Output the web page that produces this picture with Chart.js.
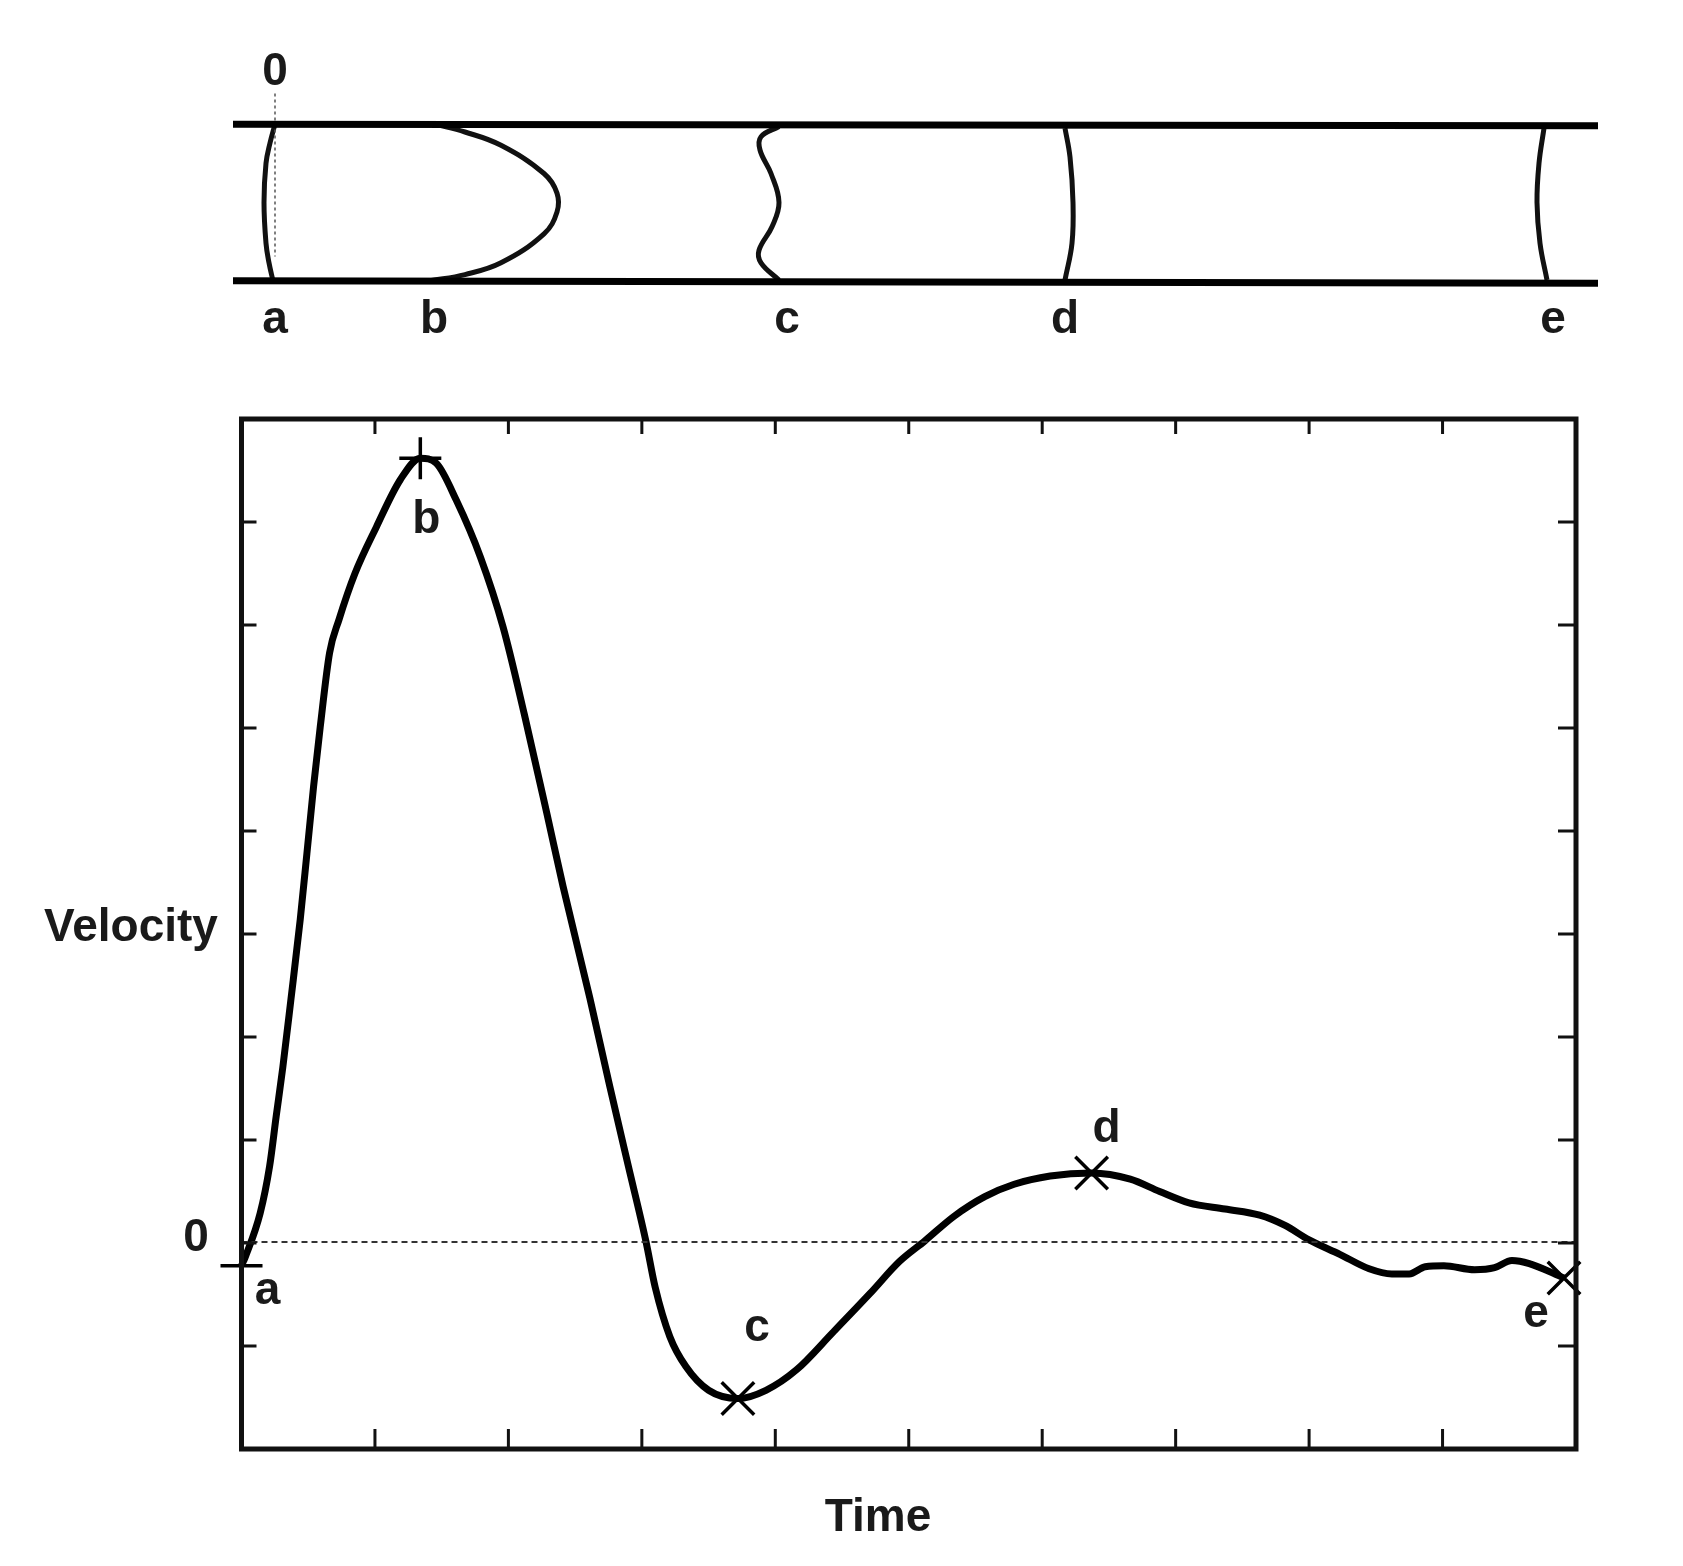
<!DOCTYPE html>
<html>
<head>
<meta charset="utf-8">
<title>Velocity over time</title>
<script src="https://cdn.jsdelivr.net/npm/chart.js@4"></script>
<style>
    html, body { margin: 0; padding: 0; background: #fff; }
    body { width: 1683px; height: 1566px; position: relative; overflow: hidden; }
    canvas { position: absolute; left: 0; }
    #tubeChart { top: 0; }
    #velocityChart { top: 400px; }
</style>
</head>
<body>
<canvas id="tubeChart" width="1683" height="400"></canvas>
<canvas id="velocityChart" width="1683" height="1166"></canvas>
<script>
// Velocity curve (time ticks, velocity ticks)
const timeValues = [0.00, 0.03, 0.14, 0.21, 0.26, 0.31, 0.37, 0.44, 0.49, 0.54, 0.59, 0.66, 0.73, 0.85, 1.01, 1.19, 1.34, 1.46, 1.61, 1.79, 1.96, 2.12, 2.29, 2.41, 2.61, 2.76, 2.90, 3.03, 3.10, 3.21, 3.33, 3.50, 3.72, 3.93, 4.16, 4.43, 4.71, 4.93, 5.12, 5.34, 5.57, 5.79, 6.06, 6.37, 6.66, 6.88, 7.10, 7.37, 7.63, 7.82, 8.00, 8.23, 8.45, 8.62, 8.75, 8.87, 9.01, 9.24, 9.39, 9.52, 9.65, 9.91];
const velocityValues = [-0.22, -0.13, 0.29, 0.74, 1.23, 1.71, 2.36, 3.14, 3.78, 4.43, 5.01, 5.73, 6.05, 6.50, 6.95, 7.41, 7.62, 7.57, 7.21, 6.66, 5.98, 5.13, 4.16, 3.46, 2.38, 1.52, 0.74, 0.02, -0.43, -0.91, -1.20, -1.43, -1.51, -1.43, -1.23, -0.87, -0.49, -0.18, 0.02, 0.26, 0.45, 0.57, 0.65, 0.68, 0.62, 0.50, 0.39, 0.33, 0.27, 0.17, 0.03, -0.11, -0.25, -0.30, -0.30, -0.23, -0.22, -0.26, -0.24, -0.17, -0.20, -0.34];

// Marked instants a to e
const markerNames = ['a', 'b', 'c', 'd', 'e'];
const markerTimes = [0.00, 1.34, 3.72, 6.37, 9.91];
const markerVelocities = [-0.22, 7.62, -1.51, 0.68, -0.34];

// Velocity profiles in the tube (distance along tube, radial position)
const radiiA = [1.0, 0.76, 0.50, 0.0, -0.52, -0.77, -1.0];
const profileA = [0.42, 0.37, 0.33, 0.31, 0.33, 0.36, 0.40];
const radiiB = [1.0, 0.90, 0.73, 0.37, 0.12, -0.12, -0.40, -0.77, -0.92, -1.0];
const profileB = [2.02, 2.32, 2.68, 3.11, 3.24, 3.24, 3.11, 2.68, 2.32, 1.97];
const radiiC = [0.97, 0.84, 0.67, 0.37, 0.0, -0.31, -0.61, -0.77, -0.99];
const profileC = [5.46, 5.28, 5.27, 5.38, 5.46, 5.39, 5.26, 5.28, 5.46];
const radiiD = [0.95, 0.58, 0.0, -0.52, -0.99];
const profileD = [8.32, 8.37, 8.40, 8.39, 8.32];
const radiiE = [0.95, 0.50, 0.0, -0.52, -0.99];
const profileE = [13.11, 13.06, 13.04, 13.07, 13.14];

// Tube walls and the dotted zero reference
const wallX = [0, 13.65];
const topWall = [1.0, 0.98];
const bottomWall = [-1.0, -1.03];
const zeroX = [0.42, 0.42];
const zeroR = [1.39, -0.69];
const tubeLabelX = [0.42, 2.01, 5.54, 8.32, 13.2];

const FONT = 'bold 46px "Liberation Sans", Arial, sans-serif';
const INK = '#111';

function toPoints(xs, ys) {
    return xs.map((x, i) => ({ x, y: ys[i] }));
}

function drawText(ctx, text, x, y) {
    ctx.save();
    ctx.font = FONT;
    ctx.fillStyle = '#1a1a1a';
    ctx.textAlign = 'center';
    ctx.textBaseline = 'middle';
    ctx.fillText(text, x, y);
    ctx.restore();
}

function profileLine(xs, ys) {
    return { data: toPoints(xs, ys), showLine: true, borderColor: INK, borderWidth: 5, pointRadius: 0, tension: 0.4, clip: false };
}

function wallLine(ys) {
    return { data: toPoints(wallX, ys), showLine: true, borderColor: '#000', borderWidth: 7, pointRadius: 0, tension: 0, clip: false };
}

// Text of the tube diagram
const tubeLabels = {
    id: 'tubeLabels',
    afterDatasetsDraw(chart) {
        const { ctx, scales } = chart;
        drawText(ctx, '0', scales.x.getPixelForValue(zeroX[0]), 72);
        markerNames.forEach((name, i) => {
            drawText(ctx, name, scales.x.getPixelForValue(tubeLabelX[i]), 320);
        });
    }
};

new Chart(document.getElementById('tubeChart'), {
    type: 'scatter',
    data: {
        datasets: [
            wallLine(topWall),
            wallLine(bottomWall),
            { data: toPoints(zeroX, zeroR), showLine: true, borderColor: '#555', borderWidth: 1.5, borderDash: [3, 3], pointRadius: 0, clip: false },
            profileLine(profileA, radiiA),
            profileLine(profileB, radiiB),
            profileLine(profileC, radiiC),
            profileLine(profileD, radiiD),
            profileLine(profileE, radiiE)
        ]
    },
    options: {
        responsive: false,
        animation: false,
        events: [],
        layout: { autoPadding: false, padding: { left: 233, right: 83, top: 85, bottom: 80 } },
        plugins: { legend: { display: false }, tooltip: { enabled: false } },
        scales: {
            x: { display: false, min: 0, max: 13.67 },
            y: { display: false, min: -1.5, max: 1.5 }
        }
    },
    plugins: [tubeLabels]
});

// Pixel offsets of the a-e letters from their markers
const letterOffsets = [[26, 26], [6, 62], [19, -70], [15, -44], [-28, 36]];

// Box around the plot with ticks pointing inwards, plus the letters
const plotFrame = {
    id: 'plotFrame',
    afterDatasetsDraw(chart) {
        const { ctx, chartArea: area, scales } = chart;
        ctx.save();
        ctx.strokeStyle = '#111';
        ctx.lineWidth = 3;
        ctx.beginPath();
        scales.x.ticks.forEach(t => {
            const px = scales.x.getPixelForValue(t.value);
            ctx.moveTo(px, area.top);
            ctx.lineTo(px, area.top + 15);
            ctx.moveTo(px, area.bottom);
            ctx.lineTo(px, area.bottom - 20);
        });
        scales.y.ticks.forEach(t => {
            const py = scales.y.getPixelForValue(t.value);
            ctx.moveTo(area.left, py);
            ctx.lineTo(area.left + 15, py);
            ctx.moveTo(area.right, py);
            ctx.lineTo(area.right - 18, py);
        });
        ctx.stroke();
        ctx.lineWidth = 5;
        ctx.strokeRect(area.left, area.top, area.right - area.left, area.bottom - area.top);
        ctx.restore();

        markerNames.forEach((name, i) => {
            drawText(ctx, name,
                scales.x.getPixelForValue(markerTimes[i]) + letterOffsets[i][0],
                scales.y.getPixelForValue(markerVelocities[i]) + letterOffsets[i][1]);
        });
        drawText(ctx, '0', 196, 838);
        drawText(ctx, 'Velocity', 131, 528);
        drawText(ctx, 'Time', 878, 1118);
    }
};

new Chart(document.getElementById('velocityChart'), {
    type: 'scatter',
    data: {
        datasets: [
            { data: toPoints([0, 10], [0.01, 0.01]), showLine: true, borderColor: '#333', borderWidth: 2, borderDash: [6, 4], pointRadius: 0 },
            { data: toPoints(timeValues, velocityValues), showLine: true, borderColor: '#000', borderWidth: 7, pointRadius: 0, cubicInterpolationMode: 'monotone', clip: false },
            {
                data: toPoints(markerTimes, markerVelocities),
                showLine: false,
                pointStyle: ['line', 'cross', 'crossRot', 'crossRot', 'crossRot'],
                pointRadius: [21, 21, 23, 23, 23],
                pointBorderColor: '#000',
                pointBackgroundColor: '#000',
                pointBorderWidth: 3.5,
                clip: false
            }
        ]
    },
    options: {
        responsive: false,
        animation: false,
        events: [],
        layout: { autoPadding: false, padding: { left: 241.5, right: 107, top: 19, bottom: 117 } },
        plugins: { legend: { display: false }, tooltip: { enabled: false } },
        scales: {
            x: {
                min: 0, max: 10,
                ticks: { display: false, stepSize: 1 },
                grid: { display: false, drawTicks: false },
                border: { display: false }
            },
            y: {
                min: -2, max: 8,
                ticks: { display: false, stepSize: 1 },
                grid: { display: false, drawTicks: false },
                border: { display: false }
            }
        }
    },
    plugins: [plotFrame]
});
</script>
</body>
</html>
